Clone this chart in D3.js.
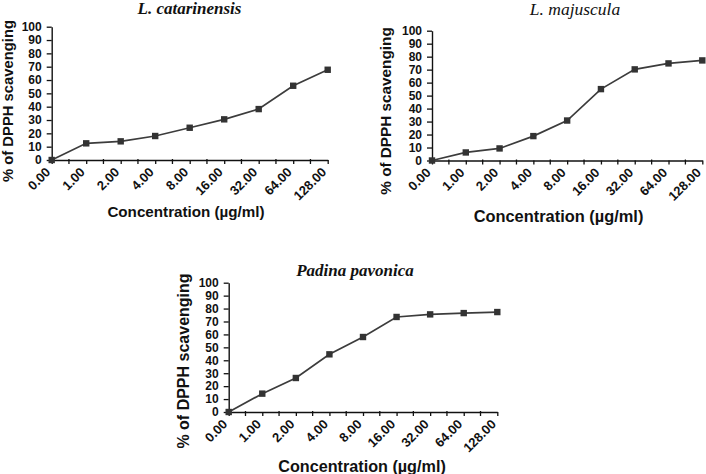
<!DOCTYPE html>
<html>
<head>
<meta charset="utf-8">
<script src="https://cdn.jsdelivr.net/npm/d3@7"></script>
<style>
  html, body { margin: 0; padding: 0; background: #fff; }
  svg { display: block; }
</style>
</head>
<body>
<svg id="chart" width="706" height="474"></svg>
<script>
// ---- data ----
const categories = ["0.00", "1.00", "2.00", "4.00", "8.00", "16.00", "32.00", "64.00", "128.00"];
const catarinensisValues = [0, 12.5, 14, 18, 24.2, 30.5, 38.2, 55.7, 67.7];
const majusculaValues = [0, 6.2, 9.3, 18.8, 30.8, 55, 70.2, 74.8, 77.1];
const pavonicaValues = [0, 14.2, 26.3, 44.6, 58, 73.5, 75.5, 76.5, 77.3];
const yTickValues = [0, 10, 20, 30, 40, 50, 60, 70, 80, 90, 100];
const titles = ["L. catarinensis", "L. majuscula", "Padina pavonica"];
const yTitle = "% of DPPH scavenging";
const xTitle = "Concentration (µg/ml)";

// ---- layout ----
const panels = [
  { title: titles[0], values: catarinensisValues, bold: true,
    x0: 51.7, x1: 327.7, y0: 160, y1: 26.7,
    titleX: 189.5, titleY: 14, titleSize: 17,
    yLabX: 13, yLabY: 101, yLabSize: 14.8,
    xLabX: 186, xLabY: 217, xLabSize: 15.2 },
  { title: titles[1], values: majusculaValues, bold: false,
    x0: 432, x1: 702.3, y0: 160.5, y1: 30.7,
    titleX: 575, titleY: 15, titleSize: 17.5,
    yLabX: 391, yLabY: 111, yLabSize: 15.3,
    xLabX: 558.5, xLabY: 222, xLabSize: 16.4 },
  { title: titles[2], values: pavonicaValues, bold: true,
    x0: 228.7, x1: 497.3, y0: 412, y1: 282.7,
    titleX: 355, titleY: 276, titleSize: 17,
    yLabX: 189, yLabY: 361, yLabSize: 16,
    xLabX: 362, xLabY: 472, xLabSize: 16.2 }
];

const svg = d3.select("#chart");
const ink = "#111";
const lineCol = "#3c3c3c";
const sans = "'Liberation Sans', Arial, sans-serif";
const serif = "'Liberation Serif', 'Times New Roman', serif";

panels.forEach(p => {
  const g = svg.append("g");
  const x = d3.scalePoint().domain(categories).range([p.x0, p.x1]);
  const y = d3.scaleLinear().domain([0, 100]).range([p.y0, p.y1]);

  // y axis
  const ya = g.append("g")
    .attr("transform", `translate(${p.x0},0)`)
    .call(d3.axisLeft(y).tickValues(yTickValues).tickSize(5).tickSizeOuter(0).tickPadding(5));
  ya.select(".domain").attr("stroke", ink).attr("stroke-width", 1.4);
  ya.selectAll(".tick line").attr("stroke", ink).attr("stroke-width", 1.3);
  ya.selectAll(".tick text")
    .attr("fill", ink)
    .style("font-family", sans).style("font-weight", "bold").style("font-size", "12px");

  // x axis: category ticks with rotated labels
  const xa = g.append("g")
    .attr("transform", `translate(0,${p.y0})`)
    .call(d3.axisBottom(x).tickSize(4).tickSizeOuter(0));
  xa.select(".domain").attr("stroke", ink).attr("stroke-width", 1.4);
  xa.selectAll(".tick line").attr("stroke", ink).attr("stroke-width", 1.3);
  xa.selectAll(".tick text")
    .attr("x", 0).attr("y", 0).attr("dy", 0)
    .attr("transform", "translate(-1,13) rotate(-45)")
    .attr("text-anchor", "end")
    .attr("fill", ink)
    .style("font-family", sans).style("font-weight", "bold").style("font-size", "13px");

  // minor ticks midway between categories
  const step = x.step();
  const mids = categories.slice(0, -1).map(c => x(c) + step / 2);
  g.selectAll(".minor").data(mids).enter().append("line")
    .attr("x1", d => d).attr("x2", d => d)
    .attr("y1", p.y0 - 1).attr("y2", p.y0 + 4)
    .attr("stroke", ink).attr("stroke-width", 1.3);

  // series line
  const pts = categories.map((c, i) => [x(c), y(p.values[i])]);
  g.append("path")
    .attr("d", d3.line()(pts))
    .attr("fill", "none").attr("stroke", lineCol).attr("stroke-width", 1.7);
  g.selectAll(".mk").data(pts).enter().append("rect")
    .attr("x", d => d[0] - 3.2).attr("y", d => d[1] - 3.2)
    .attr("width", 6.4).attr("height", 6.4)
    .attr("fill", "#333");

  // title
  g.append("text")
    .attr("x", p.titleX).attr("y", p.titleY)
    .attr("text-anchor", "middle")
    .style("font-family", serif).style("font-style", "italic")
    .style("font-weight", p.bold ? "bold" : "normal")
    .style("font-size", p.titleSize + "px")
    .attr("fill", ink)
    .text(p.title);

  // y title
  g.append("text")
    .attr("transform", `translate(${p.yLabX},${p.yLabY}) rotate(-90)`)
    .attr("text-anchor", "middle")
    .style("font-family", sans).style("font-weight", "bold")
    .style("font-size", p.yLabSize + "px")
    .attr("fill", ink)
    .text(yTitle);

  // x title
  g.append("text")
    .attr("x", p.xLabX).attr("y", p.xLabY)
    .attr("text-anchor", "middle")
    .style("font-family", sans).style("font-weight", "bold")
    .style("font-size", p.xLabSize + "px")
    .attr("fill", ink)
    .text(xTitle);
});
</script>
</body>
</html>
